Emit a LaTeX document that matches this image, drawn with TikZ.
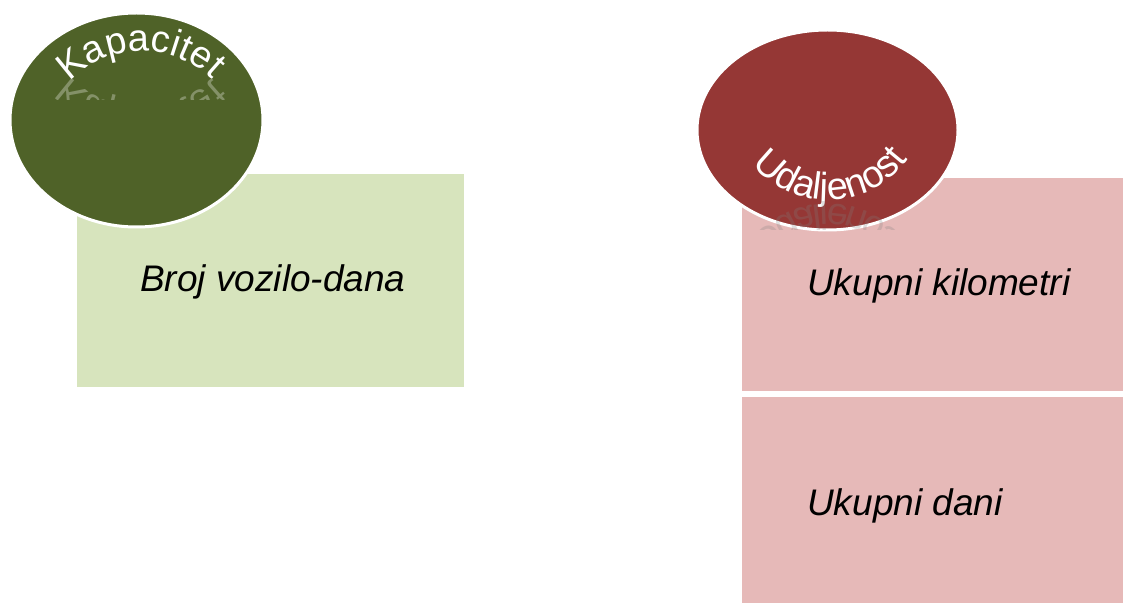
\documentclass[tikz,border=0pt]{standalone}
\usepackage{fontspec}
\setmainfont{Liberation Sans}
\usetikzlibrary{shapes.geometric,decorations.text}

\definecolor{olivedark}{HTML}{4F6228}
\definecolor{olivelight}{HTML}{D7E4BD}
\definecolor{brickred}{HTML}{953735}
\definecolor{rosepink}{HTML}{E6B9B8}
\newcommand\labelsize{\fontsize{37}{40}\selectfont}
\newcommand\archsize{\fontsize{38}{42}\selectfont}

\tikzset{
  panel/.style={rectangle, inner sep=0pt, outer sep=0pt, anchor=south west},
  badge/.style={ellipse, draw=white, line width=3pt, inner sep=0pt},
  caption/.style={anchor=base west, inner sep=0pt, font=\labelsize\itshape},
}

\begin{document}
\begin{tikzpicture}[x=1pt,y=1pt]
  \useasboundingbox (0,0) rectangle (1123,603);
  \fill[white] (0,0) rectangle (1123,603);

  % panels
  \node[panel, fill=olivelight, minimum width=387pt, minimum height=213pt] (gbox) at (77,216) {};
  \node[panel, fill=rosepink, minimum width=381pt, minimum height=213pt] (rbox1) at (742,212) {};
  \node[panel, fill=rosepink, minimum width=381pt, minimum height=206pt] (rbox2) at (742,0) {};

  % badges
  \node[badge, fill=olivedark, minimum width=253pt, minimum height=214pt] (gell) at (136.5,483) {};
  \node[badge, fill=brickred, minimum width=261pt, minimum height=200pt] (rell) at (827.5,473) {};

  % captions
  \node[caption] (tvd) at (140,312) {Broj vozilo-dana};
  \node[caption] (tkm) at (807,308) {Ukupni kilometri};
  \node[caption] (tdn) at (807,88) {Ukupni dani};

  % arched title on the green badge
  \path[decorate, decoration={text along path, text align=center,
        text={|\archsize\color{white}|Kapacitet}}]
    (142,452) ++(157:100) arc[start angle=157, end angle=25, radius=100];
  % its faint mirror image
  \begin{scope}
    \clip (40,503) rectangle (235,525);
    \begin{scope}[transform canvas={shift={(0,1048)}, yscale=-1}, opacity=0.3]
      \path[decorate, decoration={text along path, text align=center,
            text={|\archsize\color{white}|Kapacitet}}]
        (142,452) ++(157:100) arc[start angle=157, end angle=25, radius=100];
    \end{scope}
  \end{scope}

  % arched title on the red badge
  \path[decorate, decoration={text along path, text align=center,
        text={|\archsize\color{white}|Udaljenost}}]
    (828,503) ++(202:100) arc[start angle=202, end angle=342, radius=100];
  % its faint mirror image
  \begin{scope}
    \clip (730,373) rectangle (930,401);
    \begin{scope}[transform canvas={shift={(0,802)}, yscale=-1}, opacity=0.25]
      \path[decorate, decoration={text along path, text align=center,
            text={|\archsize\color{gray}|Udaljenost}}]
        (828,503) ++(202:100) arc[start angle=202, end angle=342, radius=100];
    \end{scope}
  \end{scope}
\end{tikzpicture}
\end{document}
